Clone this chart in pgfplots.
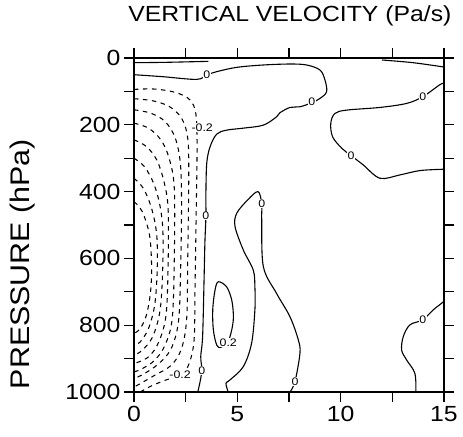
\documentclass[border=0pt]{standalone}
\usepackage{fontspec}
\setmainfont{Liberation Sans}[FakeStretch=1.13]
\usepackage{pgfplots}
\pgfplotsset{compat=1.18}
\tikzset{
  zc/.style={black, line width=1.1bp, smooth, tension=0.55},
  nc/.style={black, line width=1.05bp, smooth, tension=0.55, dash pattern=on 4.5bp off 4.5bp},
  lab/.style={fill=white, inner sep=0.6bp, font=\fontsize{11}{11}\selectfont},
}
\begin{document}
\begin{tikzpicture}
\begin{axis}[
  at={(0,0)}, anchor=south west,
  scale only axis, width=310bp, height=334bp,
  xmin=0, xmax=15, ymin=0, ymax=1000, y dir=reverse,
  xtick={0,2.5,...,15}, xticklabels={0,,5,,10,,15},
  ytick={0,100,...,1000}, yticklabels={0,,200,,400,,600,,800,,1000},
  tick align=outside, major tick length=10bp,
  xtick pos=both, ytick pos=both,
  xticklabel pos=lower, yticklabel pos=left,
  axis line style={line width=1.3bp},
  every tick/.style={line width=1.1bp, black},
  /pgf/number format/assume math mode=true,
  ticklabel style={font=\fontsize{22}{22}\selectfont},
  xticklabel style={yshift=-1bp},
  title={VERTICAL VELOCITY (Pa/s)},
  title style={at={(axis description cs:0.503,1.09)}, anchor=base, font=\fontsize{22}{22}\selectfont},
  ylabel={PRESSURE (hPa)},
  ylabel style={at={(axis description cs:-0.358,0.383)}, anchor=center, font=\fontsize{27}{27}\selectfont},
]
% zero contours
\addplot[zc] coordinates {(0,14) (1.5,13) (3.6,10)};
\addplot[zc] coordinates {(12.0,6) (13.5,14) (15,27)};
\addplot[zc] coordinates {
 (0,50) (1.4,56) (3.03,64) (3.52,51) (4.0,41) (4.97,28) (6.24,21) (7.55,18)
 (8.36,21) (9.0,36) (9.24,66) (9.32,101) (9.0,121) (8.6,134) (8.03,146)
 (7.55,148) (7.06,164) (6.9,176) (6.26,201) (5.29,210) (4.48,216) (4.0,228)
 (3.68,266) (3.52,315) (3.48,404) (3.48,473) (3.43,554) (3.39,665) (3.32,834)
 (3.23,894) (3.28,937) (3.11,994) (3.03,1000)};
\addplot[zc] coordinates {
 (15,76) (14.8,80) (13.97,116) (13.19,136) (11.9,148) (10.29,156) (9.72,166)
 (9.52,196) (9.61,236) (10.05,270) (10.5,292) (11.09,320) (11.9,360)
 (12.87,350) (13.84,337) (15,333)};
\addplot[zc] coordinates {
 (4.56,1000) (4.45,974) (4.64,964) (5.29,924) (5.69,854) (5.85,754) (5.85,685)
 (5.77,635) (5.29,575) (4.89,505) (4.97,465) (5.5,425) (6.0,400) (6.18,437)
 (6.18,485) (6.26,625) (6.9,705) (7.55,775) (7.95,844) (8.03,884) (7.79,969)
 (7.55,1000)};
\addplot[zc] coordinates {
 (15,728) (14.89,734) (14.48,754) (13.97,784) (13.35,799) (13.03,834)
 (12.95,874) (13.19,904) (13.59,944) (13.64,1000)};
% +0.2 contour
\addplot[zc] coordinates {
 (4.56,852) (4.73,814) (4.81,775) (4.73,725) (4.48,685) (4.08,670) (3.92,695)
 (3.81,754) (3.84,814) (4.0,859) (4.2,866) (4.56,852)};
% negative contours
\addplot[nc] coordinates {(0,94) (1.0,93) (2.0,103) (2.7,125) (3.0,170) (3.05,280) (3.0,500) (2.95,700) (2.9,850) (2.6,925) (2.2,950) (1.5,965) (0.8,983) (0.3,1000)};
\addplot[nc] coordinates {(0,122) (0.9,128) (1.7,145) (2.3,180) (2.6,240) (2.65,350) (2.6,600) (2.55,780) (2.3,870) (1.8,920) (1.0,950) (0.3,975) (0,985)};
\addplot[nc] coordinates {(0,155) (0.8,165) (1.5,190) (2.0,240) (2.25,320) (2.3,450) (2.25,650) (2.15,790) (1.8,870) (1.2,915) (0.5,945) (0,960)};
\addplot[nc] coordinates {(0,195) (0.7,210) (1.3,245) (1.7,300) (1.95,390) (1.95,600) (1.85,780) (1.5,860) (1.0,905) (0.4,930) (0,940)};
\addplot[nc] coordinates {(0,245) (0.6,265) (1.1,305) (1.45,370) (1.65,450) (1.65,620) (1.55,770) (1.2,850) (0.7,895) (0,915)};
\addplot[nc] coordinates {(0,300) (0.5,325) (0.95,375) (1.25,440) (1.4,520) (1.38,650) (1.25,760) (0.9,835) (0.4,875) (0,890)};
\addplot[nc] coordinates {(0,360) (0.45,390) (0.85,450) (1.1,530) (1.12,640) (1.0,740) (0.7,810) (0.3,850) (0,860)};
\addplot[nc] coordinates {(0,430) (0.4,460) (0.75,530) (0.85,620) (0.8,700) (0.6,770) (0.3,810) (0,825)};
% labels
\node[lab] at (axis cs:3.52,51) {0};
\node[lab] at (axis cs:8.6,132) {0};
\node[lab] at (axis cs:3.48,473) {0};
\node[lab] at (axis cs:3.28,937) {0};
\node[lab] at (axis cs:6.18,437) {0};
\node[lab] at (axis cs:7.79,969) {0};
\node[lab] at (axis cs:13.97,116) {0};
\node[lab] at (axis cs:10.5,292) {0};
\node[lab] at (axis cs:13.97,784) {0};
\node[lab] at (axis cs:4.56,852) {0.2};
\node[lab] at (axis cs:3.3,209) {-0.2};
\node[lab] at (axis cs:2.23,949) {-0.2};
\end{axis}
\pgfresetboundingbox
\path[use as bounding box] (-134bp,-45bp) rectangle (329bp,392bp);
\end{tikzpicture}
\end{document}
